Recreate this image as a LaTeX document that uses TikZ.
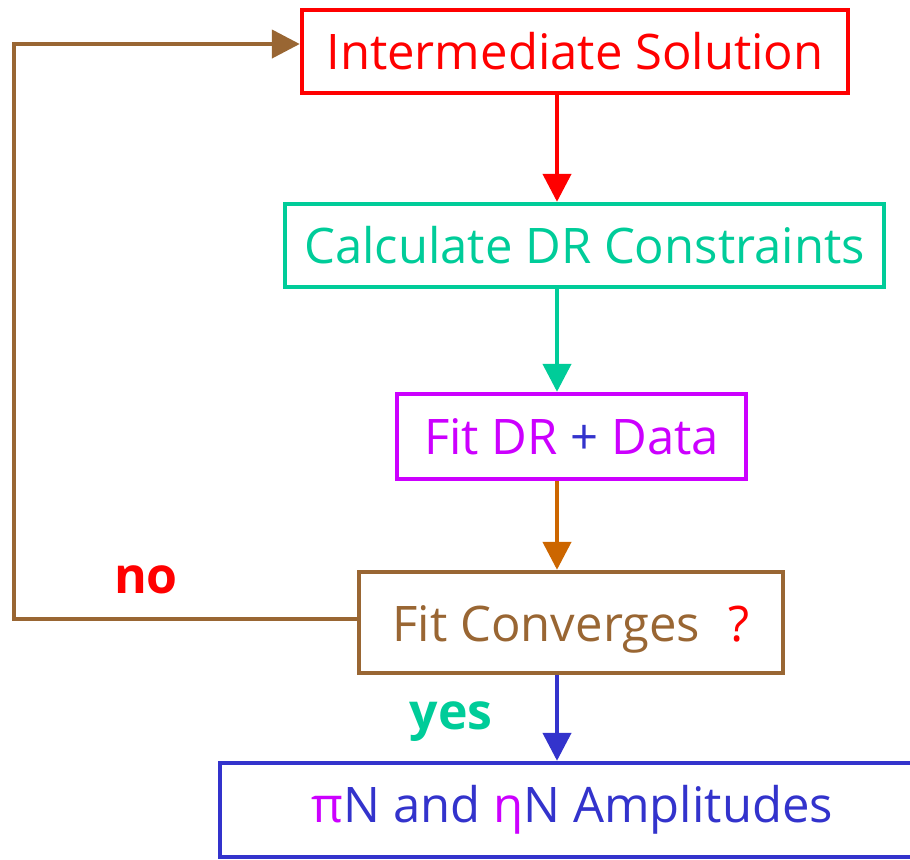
\documentclass[tikz,border=0pt]{standalone}
\usepackage{fontspec}
\setmainfont{Open Sans}
\usetikzlibrary{arrows.meta}
\definecolor{stepred}{HTML}{FF0000}
\definecolor{stepteal}{HTML}{00CC99}
\definecolor{stepviolet}{HTML}{CC00FF}
\definecolor{stepbrown}{HTML}{996633}
\definecolor{steporange}{HTML}{CC6600}
\definecolor{stepblue}{HTML}{3333CC}

\begin{document}
\begin{tikzpicture}[x=0.5pt,y=-0.5pt,>={Triangle[length=14pt,width=14pt]},line width=2.2pt,
  stepbox/.style={draw,rectangle,inner sep=0pt,font=\fontsize{24.5}{28}\selectfont},
  answer/.style={font=\bfseries\fontsize{25}{29}\selectfont}]
\useasboundingbox (0,0) rectangle (910,859);

\node[stepbox,stepred,minimum width=273pt,minimum height=41.5pt] (inter) at (575,51.5) {Intermediate Solution};
\node[stepbox,stepteal,minimum width=299.5pt,minimum height=41.5pt] (calc) at (584.5,245.5) {Calculate DR Constraints};
\node[stepbox,stepviolet,minimum width=174.5pt,minimum height=42.5pt] (fit) at (571.5,436.5) {Fit DR \textcolor{stepblue}{+} Data};
\node[stepbox,stepbrown,minimum width=212pt,minimum height=50.5pt] (conv) at (571,622.5) {\raisebox{-3.5pt}[\height][\depth]{Fit Converges\hspace{14pt}\textcolor{stepred}{?}}};
\node[stepbox,stepblue,minimum width=352.5pt,minimum height=47pt] (ampl) at (572.5,810) {\textcolor{stepviolet}{π}N and \textcolor{stepviolet}{η}N Amplitudes};

\node[answer,stepred] (no) at (146,580) {no};
\node[answer,stepteal] (yes) at (451,722) {yes};

\coordinate (axis) at (557,0);
\coordinate (loopbot) at (14,619);
\coordinate (looptop) at (14,44);

\draw[->,stepred] (inter.south -| axis) -- (calc.north -| axis);
\draw[->,stepteal] (calc.south -| axis) -- (fit.north -| axis);
\draw[->,steporange] (fit.south -| axis) -- (conv.north -| axis);
\draw[->,stepblue] (conv.south -| axis) -- (ampl.north -| axis);

% the "no" branch back to the top
\draw[->,stepbrown] (conv.west |- loopbot) -- (loopbot) -- (looptop) -- (inter.west |- looptop);

\end{tikzpicture}
\end{document}
